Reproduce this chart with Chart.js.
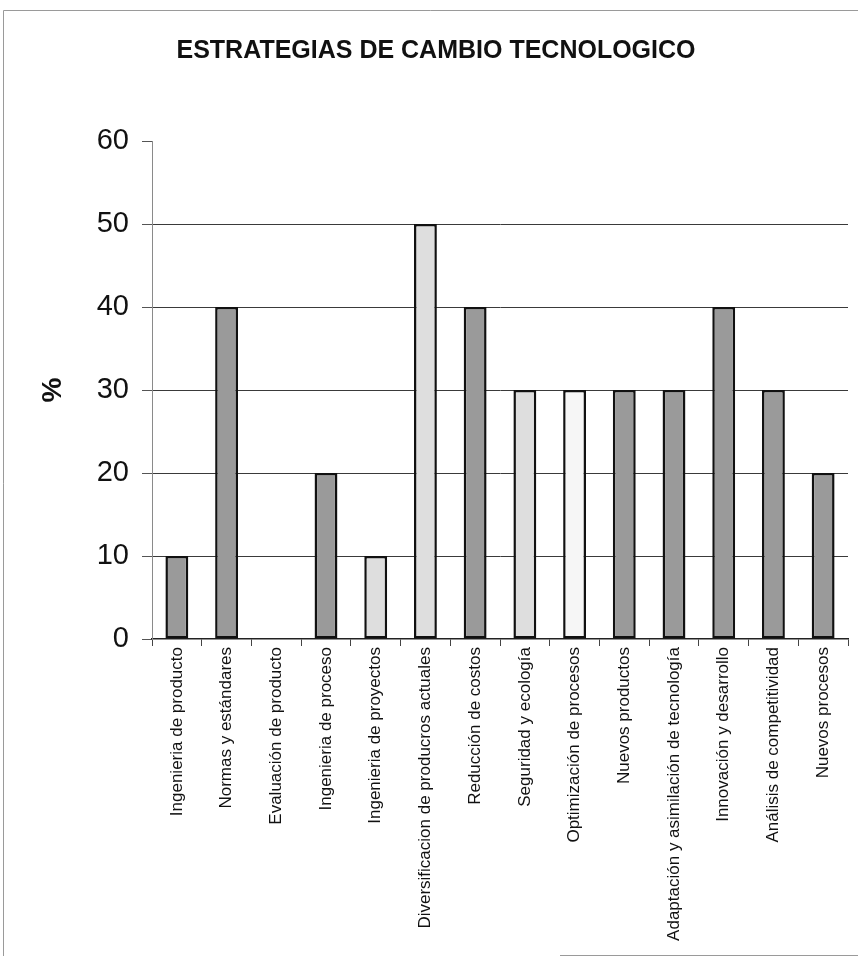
<!DOCTYPE html>
<html lang="es">
<head>
<meta charset="utf-8">
<title>Estrategias de cambio tecnológico</title>
<script src="https://cdn.jsdelivr.net/npm/chart.js@4.4.1/dist/chart.umd.min.js"></script>
<style>
  html, body { margin: 0; padding: 0; background: #ffffff; }
  #wrap { position: relative; width: 858px; height: 961px; }
</style>
</head>
<body>
<div id="wrap"><canvas id="chart" width="858" height="961"></canvas></div>
<script>
// Categories (strategies) and their percentages
const categories = [
  'Ingenieria de producto',
  'Normas y estándares',
  'Evaluación de producto',
  'Ingenieria de proceso',
  'Ingenieria de proyectos',
  'Diversificacion de producros actuales',
  'Reducción de costos',
  'Seguridad y ecología',
  'Optimización de procesos',
  'Nuevos productos',
  'Adaptación y asimilación de tecnología',
  'Innovación y desarrollo',
  'Análisis de competitividad',
  'Nuevos procesos'
];
const percentages = [10, 40, 0, 20, 10, 50, 40, 30, 30, 30, 30, 40, 30, 20];
const yTicks = [0, 10, 20, 30, 40, 50, 60];

// Fill shade for each bar (dark, light or near-white)
const DARK = '#9a9a9a', LIGHT = '#dedede', PALE = '#f6f6f6';
const barFills = [DARK, DARK, DARK, DARK, LIGHT, LIGHT, DARK, LIGHT, PALE, DARK, DARK, DARK, DARK, DARK];

const FONT = "'Liberation Sans', Arial, Helvetica, sans-serif";

// Thin page frame around the figure
const framePlugin = {
  id: 'frame',
  beforeDraw(chart) {
    const ctx = chart.ctx;
    ctx.save();
    ctx.strokeStyle = '#9a9a9a';
    ctx.lineWidth = 1;
    ctx.beginPath();
    ctx.moveTo(3.5, 956);
    ctx.lineTo(3.5, 10.5);
    ctx.lineTo(858, 10.5);
    ctx.moveTo(560, 955.5);
    ctx.lineTo(858, 955.5);
    ctx.stroke();
    ctx.restore();
  }
};

new Chart(document.getElementById('chart'), {
  type: 'bar',
  data: {
    labels: categories,
    datasets: [{
      label: '%',
      data: percentages,
      backgroundColor: barFills,
      borderColor: '#111111',
      borderWidth: ctx => (ctx.raw === 0 ? 0 : 2.5),
      borderSkipped: false,
      barPercentage: 0.46,
      categoryPercentage: 1.0
    }]
  },
  options: {
    responsive: false,
    animation: false,
    devicePixelRatio: 1,
    layout: { padding: { left: 24, right: 10, top: 0, bottom: 0 } },
    plugins: {
      legend: { display: false },
      tooltip: { enabled: false },
      title: {
        display: true,
        text: 'ESTRATEGIAS DE CAMBIO TECNOLOGICO',
        color: '#111111',
        font: { family: FONT, size: 25, weight: 'bold' },
        padding: { top: 36, bottom: 75 }
      }
    },
    scales: {
      x: {
        grid: {
          offset: true,
          drawOnChartArea: false,
          drawTicks: true,
          tickLength: 7,
          tickColor: '#444444',
          lineWidth: 1
        },
        border: { display: true, color: '#222222', width: 1.5 },
        ticks: {
          color: '#111111',
          font: { family: FONT, size: 17 },
          minRotation: 90,
          maxRotation: 90,
          autoSkip: false,
          padding: 1
        },
        afterFit(scale) { scale.height = 322; }
      },
      y: {
        min: 0,
        max: 60,
        afterBuildTicks(scale) { scale.ticks = yTicks.map(v => ({ value: v })); },
        grid: {
          color: ctx => (ctx.tick && (ctx.tick.value === 60 || ctx.tick.value === 0) ? 'rgba(0,0,0,0)' : '#3a3a3a'),
          lineWidth: 1,
          drawTicks: true,
          tickLength: 10,
          tickColor: '#555555'
        },
        border: { display: true, color: '#8a8a8a', width: 1 },
        ticks: {
          color: '#111111',
          font: { family: FONT, size: 29 },
          padding: 13
        },
        title: {
          display: true,
          text: '%',
          color: '#111111',
          font: { family: FONT, size: 28, weight: 'bold' },
          padding: { top: 12, bottom: 0 }
        },
        afterFit(scale) { scale.width = 128; }
      }
    }
  },
  plugins: [framePlugin]
});
</script>
</body>
</html>
